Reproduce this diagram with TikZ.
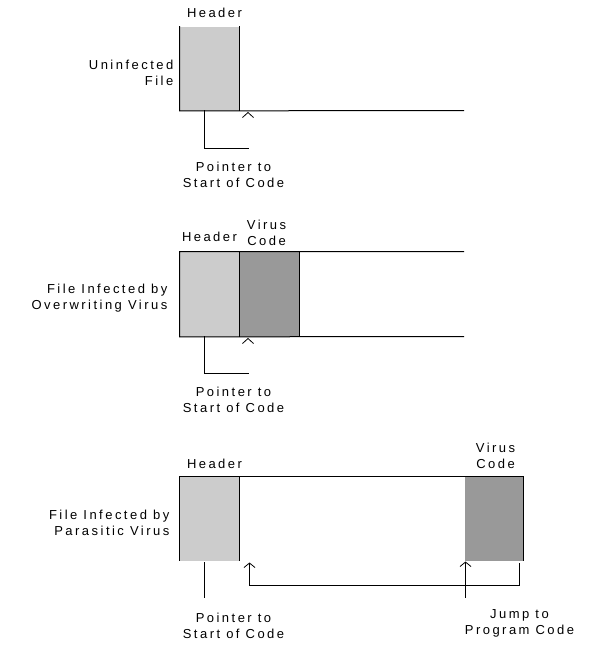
\documentclass[tikz,border=0pt]{standalone}
\usepackage{fontspec}
\setmainfont{Liberation Sans}[LetterSpace=19]
\usetikzlibrary{arrows.meta}
\definecolor{hdrgray}{HTML}{CCCCCC}
\definecolor{virgray}{HTML}{999999}
\tikzset{
  hdrbox/.style={fill=hdrgray, draw=none, inner sep=0pt, anchor=north west},
  virbox/.style={fill=virgray, draw=none, inner sep=0pt, anchor=north west},
  edge/.style={line width=1pt, line cap=rect},
  caretline/.style={line width=0.8pt},
  lbl/.style={inner sep=0pt, align=center, font=\fontsize{13}{16}\selectfont},
  rlbl/.style={inner sep=0pt, align=right, anchor=east, font=\fontsize{13}{16}\selectfont},
  barb/.style={-{Straight Barb[length=4.5pt,width=11pt,line width=0.8pt]}},
}
\begin{document}
\begin{tikzpicture}[x=1pt, y=-1pt]
\useasboundingbox (0,0) rectangle (600,646);
\begin{scope}[shift={(0.5,0.5)}]
% ---------- Panel 1 ----------
\node[hdrbox, minimum width=60pt, minimum height=84pt] (h1) at (179,26) {};
\coordinate (e1) at (463,110);
\draw[edge] (h1.north west) -- (h1.south west) -- (e1);
\draw[edge] (h1.north east) -- (h1.south east);
\coordinate (p1a) at (204,110);
\coordinate (p1b) at (204,148);
\coordinate (p1c) at (248,148);
\draw[edge] (p1a) -- (p1b) -- (p1c);
\coordinate (c1) at (247.5,112);
\draw[caretline] ([xshift=-5.5pt,yshift=-5pt]c1) -- (c1) -- ([xshift=5.5pt,yshift=-5pt]c1);
\node[lbl] (t1h) at (214,12) {Header};
\node[rlbl] (t1l) at (173,72) {Uninfected\\File};
\node[lbl] (t1p) at (233,174) {Pointer to\\Start of Code};

% ---------- Panel 2 ----------
\node[hdrbox, minimum width=60pt, minimum height=85pt] (h2) at (179,251) {};
\node[virbox, minimum width=60pt, minimum height=85pt] (v2) at (239,251) {};
\coordinate (e2t) at (463,251);
\coordinate (e2b) at (463,336);
\draw[edge] (e2t) -- (h2.north west) -- (h2.south west) -- (e2b);
\draw[edge] (h2.north east) -- (h2.south east);
\draw[edge] (v2.north east) -- (v2.south east);
\coordinate (p2a) at (204,336);
\coordinate (p2b) at (204,373);
\coordinate (p2c) at (248,373);
\draw[edge] (p2a) -- (p2b) -- (p2c);
\coordinate (c2) at (247.5,338);
\draw[caretline] ([xshift=-5.5pt,yshift=-5pt]c2) -- (c2) -- ([xshift=5.5pt,yshift=-5pt]c2);
\node[lbl] (t2h) at (209,236) {Header};
\node[lbl] (t2v) at (266,232) {Virus\\Code};
\node[rlbl] (t2l) at (167,298) {File Infected by\\Overwriting Virus};
\node[lbl] (t2p) at (233,399) {Pointer to\\Start of Code};

% ---------- Panel 3 ----------
\node[hdrbox, minimum width=60pt, minimum height=84pt] (h3) at (179,476) {};
\node[virbox, minimum width=59pt, minimum height=84pt] (v3) at (464,476) {};
\draw[edge] (h3.south west) -- (h3.north west) -- (v3.north east) -- (v3.south east);
\draw[edge] (h3.north east) -- (h3.south east);
\coordinate (p3a) at (204,562);
\coordinate (p3b) at (204,597);
\draw[edge] (p3a) -- (p3b);
\coordinate (j3a) at (519,563);
\coordinate (j3b) at (519,585);
\coordinate (j3c) at (249,585);
\coordinate (j3d) at (249,562);
\draw[edge, barb] (j3a) -- (j3b) -- (j3c) -- (j3d);
\coordinate (k3a) at (465,597);
\coordinate (k3b) at (465,561);
\draw[edge, barb] (k3a) -- (k3b);
\node[lbl] (t3h) at (214,463) {Header};
\node[lbl] (t3v) at (495,455) {Virus\\Code};
\node[rlbl] (t3l) at (169,522) {File Infected by\\Parasitic Virus};
\node[lbl] (t3p) at (233,625) {Pointer to\\Start of Code};
\node[lbl] (t3j) at (519,623) {Jump to\\Program Code};
\end{scope}
\end{tikzpicture}
\end{document}
